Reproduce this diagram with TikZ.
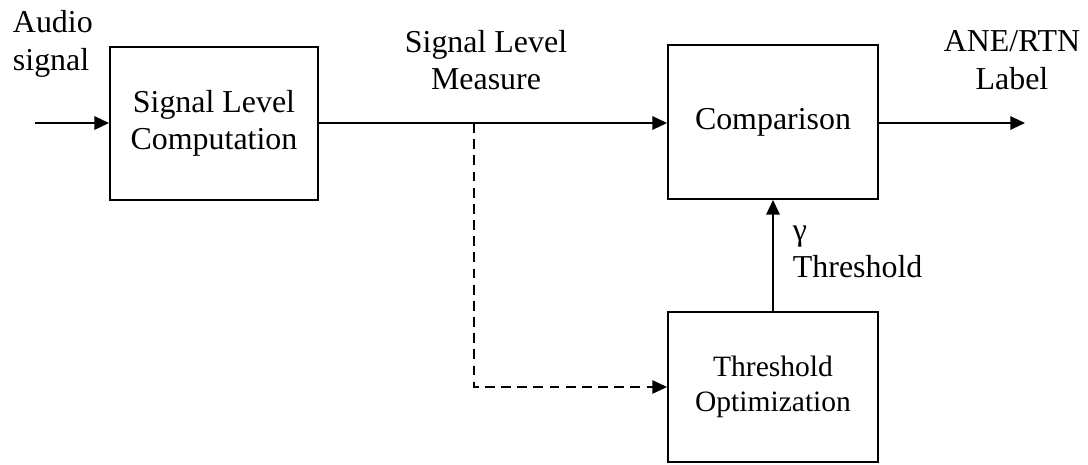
\documentclass[tikz,border=0pt]{standalone}
\usepackage{fontspec}
\setmainfont{Liberation Serif}
\usetikzlibrary{arrows.meta}

\tikzset{
    block/.style={draw, line width=1.3pt, minimum width=5.25cm, minimum height=3.85cm,
        align=center, font=\fontsize{22.7}{26.5}\selectfont},
    lbl/.style={font=\fontsize{22.7}{26.5}\selectfont},
    flow/.style={line width=1.6pt, -{Triangle[length=10.5pt,width=9.5pt]}},
}

\begin{document}
\begin{tikzpicture}
    \useasboundingbox (0,0) rectangle (27.2,11.6);
    % The three blocks.
        \node[block, minimum width=5.2cm, minimum height=3.825cm] (slc) at (5.35,8.51) {Signal Level\\Computation};
        \node[block] (cmp) at (19.325,8.55) {Comparison};
        \node[block, minimum height=3.75cm, font=\fontsize{21}{24.5}\selectfont] (opt) at (19.325,1.925) {Threshold\\Optimization};
    % Free ends and the branch point.
        \coordinate (in) at (0.875,8.525);
        \coordinate (out) at (25.625,8.525);
        \coordinate (tap) at (11.85,8.525);
    % Connectors.
        \draw[flow] (in) -- (slc.west |- in);
        \draw[flow] (slc.east |- in) -- (cmp.west |- in);
        \draw[flow] (cmp.east |- out) -- (out);
        \draw[flow] (opt.north) -- (cmp.south);
        \draw[line width=1.1pt, dash pattern=on 7pt off 4.5pt, -{Triangle[length=10.5pt,width=9.5pt]}]
            (tap) |- (opt.west);
    % Below nodes are the labels.
        \node[lbl, align=left, anchor=west] (audio) at (0.2,10.5) {Audio\\signal};
        \node[lbl, align=center] (meas) at (12.15,10.1) {Signal Level\\Measure};
        \node[lbl, align=center] (ane) at (25.3,10.1) {ANE/RTN\\Label};
        \node[lbl, align=left, anchor=west] (gam) at (19.7,5.3) {γ\\Threshold};
\end{tikzpicture}
\end{document}
